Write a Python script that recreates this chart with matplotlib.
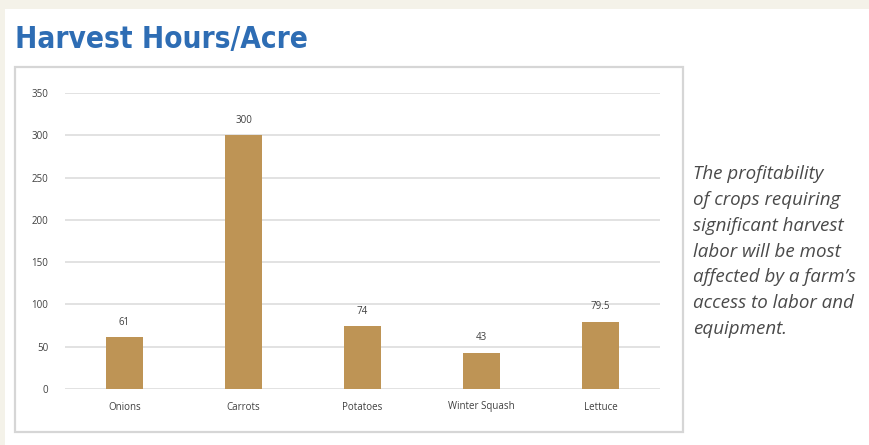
import matplotlib
matplotlib.use("Agg")
import matplotlib.pyplot as plt
from matplotlib.patches import Rectangle
from matplotlib import font_manager

categories = ["Onions", "Carrots", "Potatoes", "Winter Squash", "Lettuce"]
hours = [61, 300, 74, 43, 79.5]
value_labels = ["61", "300", "74", "43", "79.5"]
yticks = [0, 50, 100, 150, 200, 250, 300, 350]

title = "Harvest Hours/Acre"
note = ("The profitability\nof crops requiring\nsignificant harvest\n"
        "labor will be most\naffected by a farm\u2019s\naccess to labor and\nequipment.")

W, H = 869, 445
fig = plt.figure(figsize=(W / 100, H / 100), dpi=100)
fig.patch.set_facecolor("#f4f2e9")

fig.patches.append(Rectangle((5 / W, 0), 1 - 5 / W, 1 - 9 / H, transform=fig.transFigure,
                             facecolor="white", edgecolor="none", zorder=0))
fig.patches.append(Rectangle((15 / W, 1 - 432 / H), (683 - 15) / W, (432 - 67) / H,
                             transform=fig.transFigure, facecolor="white",
                             edgecolor="#d6d6d6", linewidth=1.6, zorder=1))

ax = fig.add_axes([65 / W, 1 - 389 / H, (660 - 65) / W, (389 - 93) / H])
ax.set_zorder(2)
ax.patch.set_alpha(0)
x = range(len(categories))
bars = ax.bar(x, hours, width=0.31, color="#be9455", zorder=3)
ax.set_xlim(-0.5, len(categories) - 0.5)
ax.set_ylim(0, 350)
ax.set_yticks(yticks)
ax.set_xticks(list(x))
ax.set_xticklabels(categories, fontsize=7, color="#404040", family="Open Sans")
ax.set_yticklabels([str(t) for t in yticks], fontsize=7, color="#404040", family="Open Sans")
ax.tick_params(length=0)
ax.tick_params(axis="y", pad=12)
ax.tick_params(axis="x", pad=9)
ax.grid(axis="y", color="#dddddd", linewidth=1.2, zorder=0)
for s in ax.spines.values():
    s.set_visible(False)
for b, lab in zip(bars, value_labels):
    ax.annotate(lab, (b.get_x() + b.get_width() / 2, b.get_height()),
                xytext=(0, 7), textcoords="offset points", ha="center", va="bottom",
                fontsize=7, color="#404040", family="Open Sans")

cond = [f for f in font_manager.fontManager.ttflist
        if f.name == "DejaVu Sans" and "condensed" in str(f.stretch).lower()
        or f.name in ("DejaVu Sans Condensed", "Liberation Sans Narrow")]
if cond:
    t = fig.text(15 / W, 1 - 48 / H, title, fontsize=24, fontweight="bold",
                 color="#2e6db4", family=cond[0].name, fontstretch="condensed",
                 va="baseline", ha="left")
else:
    t = fig.text(15 / W, 1 - 48 / H, title, fontsize=24, fontweight="bold",
                 color="#2e6db4", family="DejaVu Sans", va="baseline", ha="left")
fig.canvas.draw()
bb = t.get_window_extent()
target = 293.0
if bb.width > 0:
    t.set_fontsize(t.get_fontsize() * min(1.0, target / bb.width))

fig.text(693 / W, 1 - 165 / H, note, fontsize=13.5, style="italic", color="#4a4a4a",
         family="Open Sans", va="top", ha="left", linespacing=1.56)

fig.savefig("out.png", dpi=100, facecolor=fig.get_facecolor())
